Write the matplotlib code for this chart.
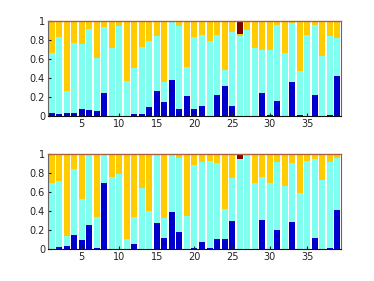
import numpy as np
import matplotlib
matplotlib.use('Agg')
import matplotlib.pyplot as plt

# ================== DATA ==================
bars = np.arange(1, 40)

# top panel: height of blue layer, cumulative top of cyan layer, orange top (rest is dark red)
top_blue = [0.03, 0.02, 0.03, 0.03, 0.07, 0.06, 0.05, 0.24, 0.0, 0.0,
            0.0, 0.02, 0.02, 0.10, 0.26, 0.15, 0.38, 0.07, 0.21, 0.07,
            0.11, 0.0, 0.22, 0.32, 0.11, 0.0, 0.0, 0.0, 0.24, 0.01,
            0.16, 0.0, 0.36, 0.01, 0.0, 0.22, 0.0, 0.01, 0.42]
top_cyan_top = [0.66, 0.83, 0.26, 0.77, 0.76, 0.92, 0.61, 0.94, 0.72, 0.95,
                0.37, 0.51, 0.73, 0.79, 0.84, 0.36, 0.99, 0.95, 0.52, 0.83,
                0.85, 0.79, 0.85, 0.49, 0.89, 0.84, 0.91, 0.72, 0.70, 0.70,
                0.96, 0.66, 0.98, 0.47, 0.85, 0.96, 0.63, 0.84, 0.82]
top_orange_top = [1.0] * 39
top_orange_top[25] = 0.86

# bottom panel
bot_blue = [0.0, 0.02, 0.035, 0.15, 0.09, 0.25, 0.01, 0.69, 0.0, 0.0,
            0.0, 0.05, 0.0, 0.0, 0.27, 0.12, 0.39, 0.18, 0.0, 0.01,
            0.07, 0.01, 0.11, 0.10, 0.29, 0.0, 0.0, 0.0, 0.30, 0.0,
            0.20, 0.0, 0.28, 0.0, 0.0, 0.12, 0.0, 0.01, 0.41]
bot_cyan_top = [0.69, 0.72, 0.14, 0.84, 0.53, 0.99, 0.34, 1.0, 0.76, 0.79,
                0.11, 0.34, 0.64, 0.40, 1.0, 0.33, 1.0, 0.96, 0.35, 0.88,
                0.92, 0.93, 0.90, 0.42, 0.75, 0.95, 0.99, 0.69, 0.76, 0.69,
                0.92, 0.66, 0.90, 0.59, 0.93, 0.95, 0.73, 0.92, 0.96]
bot_orange_top = [1.0] * 39
bot_orange_top[25] = 0.95

colors = ['#0000cc', '#7fffef', '#ffcc00', '#800000']


def stacked(ax, blue, cyan_top, orange_top):
    blue = np.array(blue)
    cyan_top = np.array(cyan_top)
    orange_top = np.array(orange_top)
    layers = [blue, cyan_top - blue, orange_top - cyan_top, 1.0 - orange_top]
    bottom = np.zeros(len(bars))
    for vals, c in zip(layers, colors):
        ax.bar(bars, vals, width=0.8, bottom=bottom, color=c, linewidth=0)
        bottom = bottom + vals
    ax.set_xlim(0.5, 39.5)
    ax.set_ylim(0, 1)
    ax.set_xticks([5, 10, 15, 20, 25, 30, 35])
    ax.set_yticks([0, 0.2, 0.4, 0.6, 0.8, 1])
    ax.set_yticklabels(['0', '0.2', '0.4', '0.6', '0.8', '1'])
    ax.tick_params(direction='in', length=2, labelsize=7, colors='#222222', pad=2)
    for s in ['left', 'right']:
        ax.spines[s].set_color('#666666')
        ax.spines[s].set_linewidth(0.8)
    ax.spines['bottom'].set_color('#111111')
    ax.spines['top'].set_color('#b0603c')
    ax.spines['top'].set_linewidth(1.0)


fig = plt.figure(figsize=(3.74, 2.81), dpi=100)
ax1 = fig.add_axes([0.128, 0.587, 0.784, 0.338])
ax2 = fig.add_axes([0.128, 0.114, 0.784, 0.338])
stacked(ax1, top_blue, top_cyan_top, top_orange_top)
stacked(ax2, bot_blue, bot_cyan_top, bot_orange_top)

fig.savefig('out.png', dpi=100)
